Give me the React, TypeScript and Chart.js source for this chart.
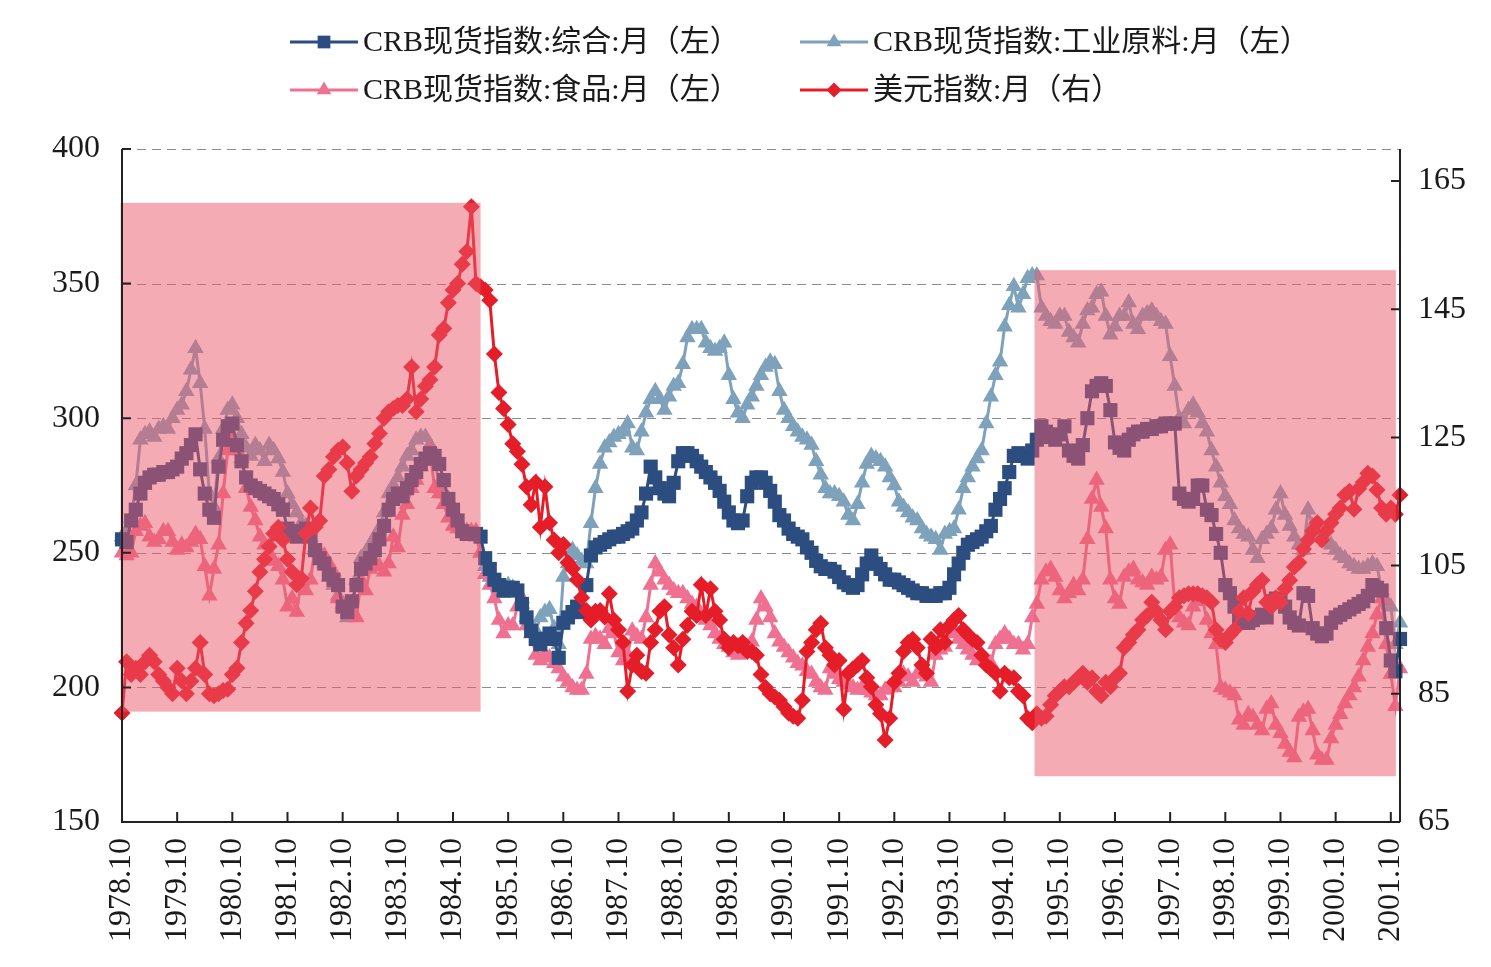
import React, { useEffect, useRef } from 'react';
import { Chart, registerables } from 'chart.js';

Chart.register(...registerables);

// ---------- data ----------
const START_YEAR = 1978;
const START_MONTH = 10;
const MONTH_COUNT = 279; // 1978.10 .. 2001.12

const months: string[] = [];
for (let i = 0; i < MONTH_COUNT; i++) {
  const m = START_MONTH - 1 + i;
  const y = START_YEAR + Math.floor(m / 12);
  const mm = (m % 12) + 1;
  months.push(`${y}.${mm < 10 ? '0' + mm : mm}`);
}

const seriesNames = [
  'CRB现货指数:综合:月（左）',
  'CRB现货指数:工业原料:月（左）',
  'CRB现货指数:食品:月（左）',
  '美元指数:月（右）',
];

const compIndex = [
  255, 254, 262, 266, 272, 276, 278, 279, 279, 280, 280, 281,
  282, 285, 287, 290, 294, 281, 272, 266, 263, 282, 292, 297,
  298, 290, 284, 278, 275, 274, 273, 272, 271, 270, 268, 266,
  259, 257, 256, 258, 259, 256, 251, 248, 246, 242, 240, 238,
  230, 228, 232, 238, 244, 246, 248, 251, 255, 260, 266, 270,
  272, 271, 274, 277, 280, 283, 285, 287, 286, 283, 277, 270,
  266, 262, 258, 257, 257, 257, 256, 248, 244, 240, 238, 236,
  237, 237, 236, 231, 226, 221, 218, 216, 218, 220, 218, 211,
  224, 226, 228, 230, 228, 238, 249, 252, 253, 254, 255, 256,
  256, 257, 258, 259, 262, 265, 272, 282, 278, 274, 272, 271,
  276, 284, 287, 287, 286, 284, 282, 280, 278, 276, 273, 269,
  265, 262, 261, 262, 271, 276, 278, 278, 276, 273, 269, 264,
  262, 259, 257, 256, 255, 252, 250, 247, 245, 244, 244, 243,
  241, 239, 238, 237, 238, 242, 246, 249, 246, 244, 242, 240,
  240, 239, 238, 237, 236, 235, 235, 234, 234, 234, 235, 235,
  237, 242, 246, 250, 253, 254, 255, 256, 258, 260, 266, 270,
  274, 280, 286, 287, 286, 285, 288, 292, 297, 295, 293, 292,
  294, 297, 288, 286, 285, 290, 300, 310, 312, 313, 312, 303,
  291, 289, 288, 292, 294, 295, 295, 296, 296, 297, 297, 298,
  298, 298, 272, 270, 269, 270, 275, 275, 266, 264, 257, 250,
  238, 235, 230, 226, 224, 224, 225, 226, 227, 226, 232, 233,
  232, 230, 226, 224, 223, 235, 234, 222, 220, 219, 220, 224,
  226, 227, 228, 229, 230, 231, 232, 234, 238, 237, 236, 222,
  210, 206, 218,
];

const industrialIndex = [
  256, 258, 263, 275, 292, 294, 295, 293, 296, 297, 296, 300,
  303, 305, 310, 318, 326, 313, 296, 272, 267, 285, 296, 303,
  305, 300, 294, 289, 286, 290, 288, 284, 290, 288, 285, 280,
  272, 268, 265, 261, 260, 256, 251, 248, 246, 241, 238, 234,
  230, 226, 229, 240, 248, 250, 253, 256, 259, 265, 272, 275,
  278, 282, 286, 288, 292, 293, 293, 290, 284, 276, 272, 270,
  266, 262, 259, 258, 257, 256, 250, 245, 241, 240, 238, 235,
  238, 237, 236, 231, 226, 223, 221, 226, 228, 229, 222, 216,
  241, 246, 251, 249, 247, 246, 261, 274, 283, 289, 291, 293,
  294, 295, 298, 289, 288, 295, 302, 307, 310, 307, 303, 308,
  312, 313, 320, 330, 333, 333, 333, 328, 326, 325, 326, 328,
  316, 307, 302, 300, 305, 308, 312, 316, 319, 321, 320, 310,
  303, 300, 297, 295, 293, 292, 290, 284, 279, 274, 272, 272,
  271, 269, 264, 262, 268, 276, 283, 286, 285, 284, 282, 278,
  275, 269, 267, 265, 263, 262, 259, 257, 256, 255, 251, 257,
  258, 259, 266, 274, 278, 282, 285, 288, 298, 308, 316, 321,
  334, 342, 349, 341, 346, 352, 353, 353, 341, 338, 336, 335,
  338, 338, 332, 330, 328, 335, 340, 341, 346, 347, 338, 331,
  334, 338, 338, 343, 335, 333, 338, 339, 340, 338, 336, 335,
  323, 312, 300, 298, 303, 305, 302, 298, 295, 288, 282, 276,
  271, 268, 262, 259, 257, 256, 251, 248, 255, 257, 259, 266,
  272, 264, 260, 256, 253, 251, 266, 260, 257, 256, 254, 253,
  251, 249, 248, 246, 245, 244, 244, 245, 246, 245, 236, 232,
  230, 216, 224,
];

const foodIndex = [
  250, 249, 250, 258, 260, 261, 256, 254, 255, 258, 258, 254,
  251, 253, 252, 254, 257, 255, 245, 234, 244, 253, 272, 288,
  292, 288, 285, 274, 267, 262, 256, 253, 250, 247, 245, 240,
  230, 233, 228, 240, 236, 240, 252, 250, 249, 246, 243, 233,
  231, 230, 228, 226, 240, 236, 244, 246, 245, 243, 246, 256,
  252, 264, 268, 274, 277, 282, 284, 288, 274, 272, 268, 263,
  260, 259, 259, 258, 258, 258, 250, 242, 238, 233, 225, 220,
  223, 223, 230, 233, 223, 220, 212, 210, 212, 211, 209, 207,
  204, 202, 200, 199, 199, 205, 218, 219, 218, 216, 222, 220,
  213, 210, 212, 221, 219, 218, 226, 238, 246, 243, 240, 238,
  236, 235, 235, 233, 231, 230, 227, 225, 223, 220, 218, 216,
  215, 213, 212, 213, 215, 217, 225, 233, 230, 226, 220, 217,
  215, 213, 211, 209, 208, 206, 205, 202, 200, 199, 207, 205,
  203, 202, 201, 200, 199, 200, 199, 198, 197, 197, 199, 200,
  200, 202, 205, 204, 202, 205, 207, 204, 202, 212, 214, 215,
  221, 220, 218, 216, 214, 212, 210, 212, 210, 209, 216, 218,
  220, 218, 216, 216, 214, 216, 226, 231, 240, 243, 244, 241,
  236, 233, 235, 238, 236, 240, 255, 270, 277, 267, 259, 240,
  233, 231, 241, 243, 244, 240, 239, 238, 241, 240, 241, 251,
  253, 231, 226, 224, 223, 230, 232, 233, 225, 220, 216, 200,
  199, 198, 197, 188, 186, 190, 189, 186, 184, 192, 194, 186,
  183, 179, 176, 174, 189, 191, 192, 184, 175, 173, 173, 181,
  186, 190, 194, 197, 200, 204, 210, 215, 220, 227, 233, 216,
  205, 193, 207,
];

const dollarIndex = [
  82, 90, 88, 89, 88, 90, 91, 90, 88, 87, 86, 85,
  89, 87, 85, 87, 89, 93, 88, 85, 84.7, 85, 85.5, 85.7,
  88, 89, 93, 96, 98, 101, 104, 106, 108, 110, 111, 109,
  106, 104, 102, 103, 110, 114, 111, 112, 119, 120, 122, 123,
  123.5, 121, 116.6, 119, 120, 121, 122, 124, 125.6, 128, 129, 129.5,
  130, 130, 131, 136, 129, 131, 133, 134, 136, 141, 142, 146,
  148, 149, 152, 154, 161, 149, 148.5, 148, 146.4, 138, 132, 129.5,
  127, 124, 122.8, 120.8, 117.3, 114.5, 118, 111, 117.3, 111.7, 109, 107,
  108.3, 105.5, 104.5, 102.8, 100, 98, 96.5, 97.9, 98, 97, 100.6, 96.5,
  95, 93, 85.4, 89.5, 91, 88.5, 88.2, 93, 95, 97.9, 98.6, 94.2,
  92.2, 89.5, 93.5, 95.7, 97.9, 97.2, 102, 97.2, 101.4, 97.9, 96.5, 93.5,
  92.2, 93, 92.5, 93, 91.6, 91.6, 91, 88, 86, 85, 84.5, 84,
  83, 82, 81.5, 81.2, 84, 91.6, 93, 95, 96, 92.2, 91, 89.5,
  90.2, 82.6, 88.2, 88.9, 89.5, 90.2, 87.5, 86.1, 83.3, 81.9, 77.8, 81.2,
  86.8, 88.2, 91.6, 93, 93.5, 92.2, 89.5, 88.2, 93.5, 92.2, 95, 93,
  95.6, 96.5, 97.2, 95, 94.2, 93.5, 93, 91, 89.5, 88.9, 88.2, 85.4,
  88.2, 87.5, 87.5, 85.4, 84.7, 81.2, 80.5, 81.9, 81.2, 81.5, 83.3, 84.7,
  85.4, 86.1, 86.1, 86.8, 87.5, 88.2, 86.8, 87.5, 85.4, 84.7, 86.8, 86.1,
  87.5, 88.2, 92.2, 93, 94.2, 95, 96.5, 97.2, 99.3, 97.9, 96.5, 95,
  97.9, 98.6, 100, 100.3, 100.6, 100.6, 100.6, 100.3, 100, 99.3, 95, 93.5,
  93, 94.2, 95, 97.9, 100, 97.5, 101, 102, 102.7, 99.3, 98.6, 100,
  99.3, 101.4, 102.7, 104.8, 105.5, 107.6, 109, 110.4, 111.7, 109, 110.4, 111.7,
  113, 114, 116, 116.6, 113.8, 117, 118, 119.4, 119, 116.8, 114, 113,
  114, 113, 116,
];

const leftTicks = [150, 200, 250, 300, 350, 400];
const rightTicks = [65, 85, 105, 125, 145, 165];

// shaded periods (month offsets from 1978.10) and their vertical extent (left-axis units)
const shadeFrom = [-0.3, 198.5];
const shadeTo = [78, 277.1];
const shadeLow = [191, 167];
const shadeHigh = [380, 355];

// ---------- styling ----------
const FONT = "'Liberation Serif', 'Times New Roman', 'Noto Sans CJK SC', serif";
const COLORS = ['#2c4d80', '#7ea2bb', '#ef7090', '#e51d28'];
const STYLES = ['rect', 'triangle', 'triangle', 'rectRot'];
const RADII = [10, 9.5, 9.5, 8.5];

function drawMarker(ctx: CanvasRenderingContext2D, style: string, x: number, y: number, r: number, color: string) {
  ctx.save();
  ctx.fillStyle = color;
  ctx.beginPath();
  if (style === 'rect') {
    const s = r * Math.SQRT1_2;
    ctx.rect(x - s, y - s, 2 * s, 2 * s);
  } else if (style === 'triangle') {
    ctx.moveTo(x, y - r);
    ctx.lineTo(x + r * 0.866, y + r * 0.5);
    ctx.lineTo(x - r * 0.866, y + r * 0.5);
    ctx.closePath();
  } else {
    ctx.moveTo(x, y - r);
    ctx.lineTo(x + r, y);
    ctx.lineTo(x, y + r);
    ctx.lineTo(x - r, y);
    ctx.closePath();
  }
  ctx.fill();
  ctx.restore();
}

const framePlugin = {
  id: 'frame',
  beforeDatasetsDraw(chart: any) {
    const { ctx, chartArea: a, scales } = chart;
    ctx.save();
    ctx.strokeStyle = '#8c8c8c';
    ctx.lineWidth = 1.2;
    ctx.setLineDash([9, 6]);
    leftTicks.forEach((v) => {
      if (v === leftTicks[0]) return;
      const y = Math.round(scales.y.getPixelForValue(v)) + 0.5;
      ctx.beginPath();
      ctx.moveTo(a.left, y);
      ctx.lineTo(a.right, y);
      ctx.stroke();
    });
    ctx.restore();
  },
  afterDatasetsDraw(chart: any) {
    const { ctx, chartArea: a, scales } = chart;
    ctx.save();
    // shaded periods over the lines
    ctx.fillStyle = 'rgba(236, 88, 106, 0.5)';
    for (let k = 0; k < shadeFrom.length; k++) {
      const x1 = scales.x.getPixelForValue(shadeFrom[k]);
      const x2 = scales.x.getPixelForValue(shadeTo[k]);
      const y1 = scales.y.getPixelForValue(shadeHigh[k]);
      const y2 = scales.y.getPixelForValue(shadeLow[k]);
      ctx.fillRect(x1, y1, x2 - x1, y2 - y1);
    }
    // axes
    ctx.strokeStyle = '#222';
    ctx.lineWidth = 2;
    ctx.setLineDash([]);
    ctx.beginPath();
    ctx.moveTo(a.left, a.top);
    ctx.lineTo(a.left, a.bottom);
    ctx.lineTo(a.right, a.bottom);
    ctx.moveTo(a.right, a.top);
    ctx.lineTo(a.right, a.bottom);
    ctx.stroke();
    // inward ticks
    ctx.beginPath();
    leftTicks.forEach((v) => {
      const y = scales.y.getPixelForValue(v);
      ctx.moveTo(a.left, y);
      ctx.lineTo(a.left + 9, y);
    });
    rightTicks.forEach((v) => {
      const y = scales.y2.getPixelForValue(v);
      ctx.moveTo(a.right, y);
      ctx.lineTo(a.right - 9, y);
    });
    months.forEach((m, i) => {
      if (!m.endsWith('.10')) return;
      const x = scales.x.getPixelForValue(i);
      ctx.moveTo(x, a.bottom);
      ctx.lineTo(x, a.bottom - 10);
    });
    ctx.stroke();
    ctx.restore();
  },
};

const legendPlugin = {
  id: 'customLegend',
  afterDraw(chart: any) {
    const ctx = chart.ctx as CanvasRenderingContext2D;
    const spots = [
      [290, 42],
      [800, 42],
      [290, 90],
      [800, 90],
    ];
    ctx.save();
    spots.forEach(([x, y], k) => {
      ctx.strokeStyle = COLORS[k];
      ctx.lineWidth = 3;
      ctx.beginPath();
      ctx.moveTo(x, y);
      ctx.lineTo(x + 68, y);
      ctx.stroke();
      drawMarker(ctx, STYLES[k], x + 34, y, RADII[k] - 1, COLORS[k]);
      ctx.fillStyle = '#1a1a1a';
      ctx.font = `30px ${FONT}`;
      ctx.textAlign = 'left';
      ctx.textBaseline = 'middle';
      ctx.fillText(seriesNames[k], x + 73, y + 1);
    });
    ctx.restore();
  },
};

export default function App() {
  const ref = useRef<HTMLCanvasElement | null>(null);

  useEffect(() => {
    if (!ref.current) return;
    const values = [compIndex, industrialIndex, foodIndex, dollarIndex];
    const orders = [1, 3, 2, 0];
    const datasets = values.map((d, k) => ({
      label: seriesNames[k],
      data: d,
      yAxisID: k === 3 ? 'y2' : 'y',
      borderColor: COLORS[k],
      backgroundColor: COLORS[k],
      borderWidth: 3,
      pointStyle: STYLES[k] as any,
      pointRadius: RADII[k],
      pointBackgroundColor: COLORS[k],
      pointBorderColor: COLORS[k],
      pointBorderWidth: 0,
      tension: 0,
      clip: false as any,
      order: orders[k],
    }));

    const tickFont = { family: FONT, size: 32 };
    const chart = new Chart(ref.current, {
      type: 'line',
      data: { labels: months, datasets },
      options: {
        responsive: false,
        animation: false,
        events: [],
        layout: { padding: { top: 149, left: 0, right: 0, bottom: 0 } },
        plugins: { legend: { display: false }, tooltip: { enabled: false } },
        scales: {
          x: {
            type: 'category',
            offset: false,
            grid: { display: false, drawTicks: false },
            border: { display: false },
            ticks: {
              autoSkip: false,
              maxRotation: 90,
              minRotation: 90,
              padding: 16,
              color: '#1a1a1a',
              font: tickFont,
              callback: (_v: any, i: number) => (months[i].endsWith('.10') ? months[i] : ''),
            },
            afterFit: (s: any) => {
              s.height = 145;
            },
          },
          y: {
            position: 'left',
            min: 150,
            max: 400,
            grid: { display: false, drawTicks: false },
            border: { display: false },
            ticks: { padding: 22, color: '#1a1a1a', font: tickFont },
            afterBuildTicks: (s: any) => {
              s.ticks = leftTicks.map((v) => ({ value: v }));
            },
            afterFit: (s: any) => {
              s.width = 122;
            },
          },
          y2: {
            position: 'right',
            min: 65,
            max: 170,
            grid: { display: false, drawTicks: false },
            border: { display: false },
            ticks: { padding: 18, color: '#1a1a1a', font: tickFont },
            afterBuildTicks: (s: any) => {
              s.ticks = rightTicks.map((v) => ({ value: v }));
            },
            afterFit: (s: any) => {
              s.width = 91;
            },
          },
        },
      } as any,
      plugins: [framePlugin, legendPlugin],
    });
    return () => chart.destroy();
  }, []);

  return (
    <div style={{ position: 'absolute', left: 0, top: 0, width: 1491, height: 967, background: '#fff' }}>
      <canvas ref={ref} width={1491} height={967} style={{ display: 'block' }} />
    </div>
  );
}
